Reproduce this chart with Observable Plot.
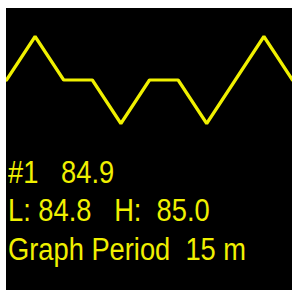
<!DOCTYPE html>
<html>
<head>
<meta charset="utf-8">
<script src="https://cdn.jsdelivr.net/npm/d3@7"></script>
<script src="https://cdn.jsdelivr.net/npm/@observablehq/plot@0.6"></script>
<style>
  html, body { margin: 0; padding: 0; background: #fff; width: 292px; height: 290px; overflow: hidden; }
  #panel { position: absolute; left: 6px; top: 8px; width: 286px; height: 282px; background: #000; overflow: hidden; }
  #panel svg { display: block; background: transparent; }
  #info { padding-left: 2px; padding-top: 1px; }
  #info div {
    font-family: "Liberation Sans", Arial, sans-serif; font-size: 31px; line-height: 38.3px;
    color: #f0f000; white-space: pre; transform: scaleX(0.88); transform-origin: 0 0;
  }
</style>
</head>
<body>
<div id="panel"><div id="chart"></div><div id="info"></div></div>
<script>
const samples = [0, 1, 2, 3, 4, 5, 6, 7, 8, 9, 10];
const readings = [84.9, 85.0, 84.9, 84.9, 84.8, 84.9, 84.9, 84.8, 84.9, 85.0, 84.9];
const channel = "#1";
const current = "84.9";
const low = "84.8";
const high = "85.0";
const period = "15 m";

const data = samples.map((s, i) => ({s, v: readings[i]}));

const chart = Plot.plot({
  width: 286,
  height: 145,
  margin: 0,
  x: {domain: [0, 10], axis: null},
  y: {domain: [84.8, 85.0], range: [115, 28], axis: null},
  marks: [
    Plot.line(data, {x: "s", y: "v", stroke: "#f0f000", strokeWidth: 3.2, strokeLinejoin: "miter", curve: "linear"})
  ]
});
document.getElementById("chart").appendChild(chart);

const lines = [
  `${channel}   ${current}`,
  `L: ${low}   H:  ${high}`,
  `Graph Period  ${period}`
];
const info = document.getElementById("info");
for (const t of lines) {
  const d = document.createElement("div");
  d.textContent = t;
  info.appendChild(d);
}
</script>
</body>
</html>
